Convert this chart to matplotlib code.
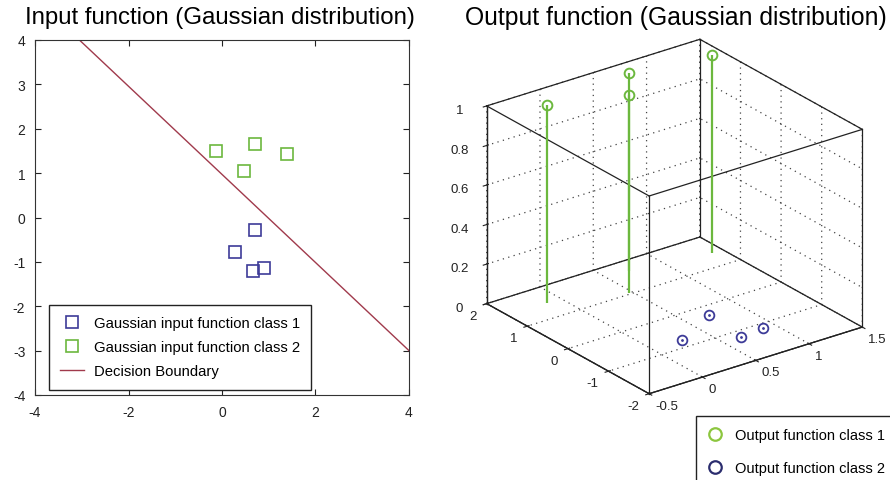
import itertools
import numpy as np
import matplotlib
matplotlib.use("Agg")
import matplotlib.pyplot as plt
from matplotlib.lines import Line2D
from mpl_toolkits.mplot3d import proj3d

# Gaussian input points
class1_x = [0.71, 0.28, 0.67, 0.90]
class1_y = [-0.29, -0.77, -1.20, -1.14]
class2_x = [-0.13, 0.71, 1.40, 0.47]
class2_y = [1.49, 1.66, 1.43, 1.04]

# decision boundary end points
boundary_x = [-3.05, 4.0]
boundary_y = [4.0, -3.0]

# outputs of the network: class 2 inputs give 1, class 1 inputs give 0
out1_x, out1_y, out1_z = class2_x, class2_y, [1, 1, 1, 1]
out2_x, out2_y, out2_z = class1_x, class1_y, [0, 0, 0, 0]

x3_ticks = [-0.5, 0, 0.5, 1, 1.5]
x3_labels = ["-0.5", "0", "0.5", "1", "1.5"]
y3_ticks = [-2, -1, 0, 1, 2]
y3_labels = ["-2", "-1", "0", "1", "2"]
z3_ticks = [0, 0.2, 0.4, 0.6, 0.8, 1]
z3_labels = ["0", "0.2", "0.4", "0.6", "0.8", "1"]

GREEN = "#6cb83e"
BLUE = "#3d3b98"
RED = "#a03a4c"

plt.rcParams["font.family"] = ["Liberation Sans", "DejaVu Sans"]
plt.rcParams["axes.unicode_minus"] = False
plt.rcParams["grid.linestyle"] = (0, (1, 3.5))
plt.rcParams["grid.color"] = "#444444"
plt.rcParams["grid.linewidth"] = 0.9

W, H = 890, 481
fig = plt.figure(figsize=(W / 100, H / 100), dpi=100)

# ---------------- left: input points ----------------
ax1 = fig.add_axes([35 / W, 1 - 396 / H, 374 / W, 355 / H])
ax1.plot(class1_x, class1_y, "s", ms=8, mfc="none", mec=BLUE, mew=1.2,
         label="Gaussian input function class 1")
ax1.plot(class2_x, class2_y, "s", ms=8, mfc="none", mec=GREEN, mew=1.2,
         label="Gaussian input function class 2")
ax1.plot(boundary_x, boundary_y, color=RED, lw=1, label="Decision Boundary")
ax1.set_xlim(-4, 4)
ax1.set_ylim(-4, 4)
ax1.set_xticks([-4, -2, 0, 2, 4])
ax1.set_yticks(range(-4, 5))
ax1.tick_params(direction="in", top=True, right=True, length=4,
                labelsize=10, colors="#222222", pad=7)
for s in ax1.spines.values():
    s.set_color("#333333")
leg1 = ax1.legend(loc="upper left", bbox_to_anchor=(0.0374, 0.2535),
                  borderaxespad=0, fancybox=False, edgecolor="#222222",
                  framealpha=1, fontsize=10.7, labelspacing=0.68,
                  handlelength=1.6, handletextpad=0.65, borderpad=0.75)
leg1.get_frame().set_linewidth(1)

fig.text(220 / W, 1 - 18 / H, "Input function (Gaussian distribution)",
         ha="center", va="center", fontsize=17.3)

# ---------------- right: output stems ----------------
ax2 = fig.add_axes([0.50, 0.05, 0.50, 0.50 * W / H], projection="3d")
ax2.set_proj_type("ortho")
ax2.view_init(elev=24.6, azim=-126.9)
ax2.set_box_aspect((266, 270, 217))

xl, yl, zl = (-0.5, 1.5), (-2, 2), (0, 1)

ml, sl, bl = ax2.stem(out1_x, out1_y, out1_z, linefmt="-", markerfmt="o",
                      basefmt=" ")
sl.set_color(GREEN)
sl.set_linewidth(1.6)
ml.set_markerfacecolor("none")
ml.set_markeredgecolor(GREEN)
ml.set_markersize(7)
ml.set_markeredgewidth(1.4)

ax2.plot(out2_x, out2_y, out2_z, "o", ls="none", ms=7, mfc="none",
         mec=BLUE, mew=1.3)
ax2.plot(out2_x, out2_y, out2_z, ".", ls="none", ms=2, color=BLUE)

# full box outline
corners = list(itertools.product(xl, yl, zl))
for a, b in itertools.combinations(corners, 2):
    if sum(p != q for p, q in zip(a, b)) == 1:
        ax2.plot(*zip(a, b), color="#222222", lw=0.9)

ax2.set_xlim(*xl, view_margin=0)
ax2.set_ylim(*yl, view_margin=0)
ax2.set_zlim(*zl, view_margin=0)
ax2.set_xticks(x3_ticks)
ax2.set_yticks(y3_ticks)
ax2.set_zticks(z3_ticks)
ax2.set_xticklabels([])
ax2.set_yticklabels([])
ax2.set_zticklabels(z3_labels)
for axis in (ax2.xaxis, ax2.yaxis, ax2.zaxis):
    axis.set_pane_color((1, 1, 1, 0))
    axis.pane.set_edgecolor("none")
    axis.line.set_color("#222222")
    axis.line.set_linewidth(0.9)
ax2.tick_params(labelsize=9.5, colors="#222222")


def project(ax, xs, ys, zs):
    # 3D data -> display pixels (origin top-left)
    px, py, _ = proj3d.proj_transform(np.array(xs, float), np.array(ys, float),
                                      np.array(zs, float), ax.M)
    pts = ax.transData.transform(np.column_stack([px, py]))
    return pts[:, 0], H - pts[:, 1]


def fit_box(ax, target):
    # move/scale the 3D axes so the projected box lands on target (pixels)
    tx0, tx1, ty0, ty1 = target
    for _ in range(3):
        fig.canvas.draw()
        qx, qy = project(ax, *zip(*corners))
        s = 0.5 * ((tx1 - tx0) / np.ptp(qx) + (ty1 - ty0) / np.ptp(qy))
        pos = ax.get_position(original=True)
        acx = (pos.x0 + pos.width / 2) * W
        acy = H - (pos.y0 + pos.height / 2) * H
        bcx, bcy = (qx.min() + qx.max()) / 2, (qy.min() + qy.max()) / 2
        ncx = (tx0 + tx1) / 2 - s * (bcx - acx)
        ncy = (ty0 + ty1) / 2 - s * (bcy - acy)
        nw, nh = pos.width * s, pos.height * s
        ax.set_position([ncx / W - nw / 2, (H - ncy) / H - nh / 2, nw, nh])
    fig.canvas.draw()


fit_box(ax2, (487, 862, 40, 395))

# x / y tick labels placed like the MATLAB ones (just off the front edges)
qx, qy = project(ax2, x3_ticks, [yl[0]] * len(x3_ticks), [zl[0]] * len(x3_ticks))
for px, py, lab in zip(qx, qy, x3_labels):
    fig.text((px + 6) / W, 1 - (py + 12) / H, lab, ha="left", va="center",
             fontsize=9.5, color="#222222")
qx, qy = project(ax2, [xl[0]] * len(y3_ticks), y3_ticks, [zl[0]] * len(y3_ticks))
for px, py, lab in zip(qx, qy, y3_labels):
    fig.text((px - 10) / W, 1 - (py + 12) / H, lab, ha="right", va="center",
             fontsize=9.5, color="#222222")

fig.text(676 / W, 1 - 18 / H, "Output function (Gaussian distribution)",
         ha="center", va="center", fontsize=17.8)

handles = [Line2D([], [], marker="o", ls="none", ms=9, mfc="none",
                  mec="#8cc63f", mew=1.6),
           Line2D([], [], marker="o", ls="none", ms=9, mfc="none",
                  mec="#2b2d6e", mew=1.6)]
leg2 = fig.legend(handles, ["Output function class 1", "Output function class 2"],
                  loc="upper left", bbox_to_anchor=(696 / W, 1 - 417 / H),
                  borderaxespad=0, fancybox=False, edgecolor="#222222",
                  framealpha=1, fontsize=10.5, labelspacing=1.3,
                  handlelength=1.0, handletextpad=0.9, borderpad=0.8)
leg2.get_frame().set_linewidth(1)

fig.savefig("out.png", dpi=100)
